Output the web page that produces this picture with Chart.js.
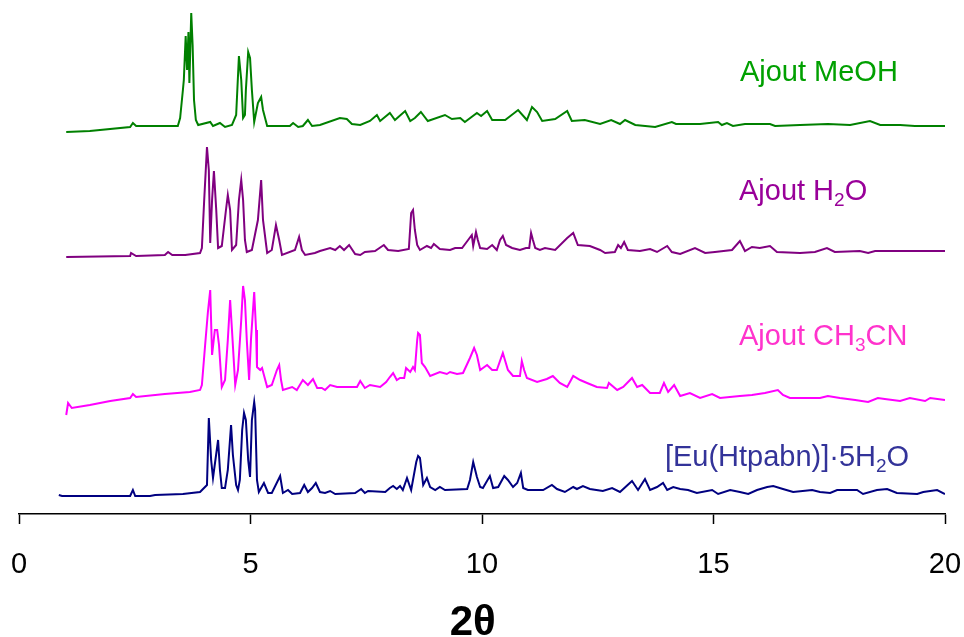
<!DOCTYPE html>
<html>
<head>
<meta charset="utf-8">
<script src="https://cdn.jsdelivr.net/npm/chart.js@4"></script>
<style>
  html, body { margin: 0; padding: 0; background: #fff; }
  #wrap { width: 964px; height: 637px; }
</style>
</head>
<body>
<div id="wrap"><canvas id="myChart" width="964" height="637"></canvas></div>
<script>
// 2theta positions and intensities (arbitrary units, each above its own baseline)
const meohX = [1.02,1.53,2.40,2.46,2.53,3.43,3.48,3.54,3.56,3.60,3.63,3.66,3.68,3.72,3.75,3.78,3.82,3.87,4.13,4.19,4.34,4.45,4.60,4.69,4.75,4.80,4.84,4.88,4.90,4.95,4.99,5.03,5.08,5.16,5.23,5.27,5.36,5.85,5.92,6.03,6.13,6.24,6.33,6.50,6.93,7.08,7.19,7.37,7.58,7.73,7.80,8.01,8.12,8.34,8.45,8.55,8.68,8.83,9.20,9.35,9.53,9.63,9.89,9.98,10.11,10.22,10.50,10.78,10.97,11.08,11.19,11.30,11.58,11.84,11.94,12.22,12.55,12.79,12.98,13.09,13.31,13.74,14.10,14.19,14.71,15.10,15.18,15.29,15.42,15.68,16.22,16.33,16.87,17.47,17.95,18.38,18.60,19.03,19.35,20.00];
const meohY = [0,1,5,9,6,6,14,42,52,96,62,100,49,119,87,32,12,7,10,6,9,5,7,17,76,52,14,17,42,80,74,42,10,29,35,22,6,6,9,5,6,12,6,7,14,13,8,7,11,17,11,19,12,21,11,14,20,11,17,13,14,10,19,16,21,12,12,22,12,25,20,11,13,21,11,12,8,12,8,12,7,5,10,8,8,10,7,9,6,8,8,6,7,8,7,11,7,7,6,6];

const h2oX = [1.02,2.40,2.42,2.53,3.15,3.22,3.31,3.59,3.91,3.95,4.00,4.06,4.10,4.13,4.17,4.21,4.26,4.30,4.38,4.47,4.51,4.56,4.60,4.69,4.75,4.80,4.84,4.88,4.92,5.03,5.16,5.23,5.27,5.36,5.46,5.55,5.62,5.68,5.96,6.05,6.11,6.18,6.39,6.50,6.72,6.83,6.93,7.02,7.13,7.26,7.37,7.47,7.69,7.88,7.97,8.19,8.42,8.47,8.51,8.55,8.60,8.66,8.81,8.90,8.96,9.09,9.31,9.42,9.57,9.70,9.78,9.81,9.87,9.91,9.96,10.11,10.22,10.32,10.39,10.45,10.52,10.65,10.82,10.95,11.02,11.06,11.10,11.15,11.25,11.36,11.58,11.84,11.97,12.07,12.33,12.55,12.66,12.87,12.94,13.00,13.07,13.15,13.41,13.63,13.78,14.00,14.10,14.28,14.60,14.82,15.03,15.40,15.57,15.68,15.83,16.00,16.22,16.37,16.87,17.19,17.45,17.62,18.16,18.34,18.49,20.00];
const h2oY = [0,1,4,1,2,5,2,2,4,9,57,110,87,14,57,86,47,9,11,47,62,47,7,12,57,77,57,17,5,7,37,77,37,4,7,32,17,2,7,20,7,2,4,6,9,7,11,7,12,3,2,5,6,12,7,6,8,44,47,27,12,7,11,9,13,8,7,9,9,17,22,11,25,17,9,8,12,7,17,21,12,9,7,9,9,24,17,9,7,9,7,19,24,12,11,7,4,5,12,9,15,7,6,8,5,11,5,3,9,4,5,7,16,6,10,9,11,5,4,5,9,5,6,4,6,6];

const ch3cnX = [1.02,1.06,1.14,1.53,1.97,2.40,2.46,2.53,3.15,3.69,3.91,3.95,4.02,4.08,4.13,4.17,4.23,4.28,4.32,4.38,4.45,4.51,4.56,4.60,4.67,4.73,4.80,4.84,4.88,4.92,4.97,5.01,5.08,5.12,5.14,5.21,5.25,5.29,5.36,5.46,5.57,5.62,5.66,5.70,5.90,6.00,6.13,6.24,6.35,6.44,6.54,6.61,6.72,6.87,7.30,7.37,7.47,7.58,7.80,7.93,8.01,8.08,8.16,8.23,8.32,8.36,8.45,8.51,8.55,8.60,8.62,8.66,8.70,8.77,8.88,9.09,9.24,9.31,9.46,9.59,9.74,9.83,9.89,9.96,10.11,10.22,10.32,10.45,10.56,10.67,10.82,10.86,10.91,10.97,11.19,11.40,11.53,11.68,11.84,11.97,12.12,12.27,12.48,12.70,12.74,12.92,13.05,13.24,13.35,13.46,13.63,13.84,13.93,14.02,14.15,14.28,14.49,14.71,14.97,15.14,15.57,15.83,16.11,16.39,16.50,16.65,17.30,17.47,17.73,18.06,18.34,18.55,18.70,19.03,19.24,19.57,19.68,20.00];
const ch3cnY = [0,12,7,10,14,17,21,18,21,23,25,30,70,103,125,60,85,85,70,28,35,75,115,85,30,45,95,129,115,75,35,75,123,85,48,45,47,40,28,30,45,50,35,25,28,25,35,30,36,27,27,25,30,28,28,34,27,30,28,33,38,42,35,37,37,47,43,48,45,75,82,80,52,48,39,43,41,43,41,42,57,67,60,45,50,45,45,62,45,39,39,54,45,37,33,36,39,32,28,39,35,32,28,27,32,25,28,37,28,30,22,22,32,23,30,19,22,17,21,17,19,20,22,25,20,17,17,19,17,15,13,17,16,14,17,14,17,15];

const euX = [0.86,0.93,2.40,2.46,2.51,2.83,2.94,3.54,3.91,4.06,4.10,4.15,4.19,4.30,4.34,4.38,4.45,4.51,4.58,4.62,4.69,4.73,4.77,4.82,4.86,4.90,4.95,4.99,5.03,5.08,5.10,5.14,5.18,5.29,5.38,5.46,5.64,5.70,5.81,5.90,6.07,6.16,6.24,6.33,6.41,6.50,6.61,6.72,6.83,7.26,7.39,7.47,7.54,7.91,8.01,8.08,8.16,8.23,8.29,8.38,8.47,8.58,8.62,8.66,8.73,8.81,8.88,8.99,9.09,9.20,9.68,9.74,9.81,9.89,9.96,10.02,10.17,10.24,10.35,10.48,10.56,10.67,10.76,10.84,10.89,10.99,11.32,11.51,11.62,11.79,11.97,12.05,12.18,12.33,12.61,12.81,12.98,13.24,13.37,13.52,13.63,13.78,13.91,14.00,14.13,14.28,14.45,14.64,14.97,15.10,15.36,15.57,15.75,15.94,16.16,16.29,16.50,16.72,17.13,17.30,17.52,17.67,18.10,18.23,18.53,18.75,18.96,19.40,19.53,19.83,20.00];
const euY = [1,0,0,6,0,0,1,2,4,11,78,36,18,56,26,8,8,26,71,41,11,6,16,66,83,76,36,19,76,94,86,16,4,13,3,3,20,3,6,2,3,11,4,8,13,4,3,5,2,3,7,3,5,4,8,10,7,10,6,18,6,34,40,38,11,18,9,6,9,6,7,16,34,19,9,8,20,8,9,20,16,9,13,23,8,6,6,11,7,4,9,7,10,7,5,8,4,15,6,17,6,9,13,6,9,7,6,3,6,2,6,4,2,6,9,10,7,4,6,4,3,6,6,2,6,7,3,2,4,6,2];

const seriesNames = ['Ajout MeOH', 'Ajout H2O', 'Ajout CH3CN', '[Eu(Htpabn)]·5H2O'];
const xTicks = [0, 5, 10, 15, 20];
const xTitle = '2θ';

// vertical stacking of the four patterns
const offsets = [382, 257, 99, 18];
const lineColors = ['#008000', '#800080', '#ff00ff', '#000080'];
const textColors = ['#00a000', '#990099', '#ff33cc', '#333399'];

function toPoints(xs, ys, off) {
  return xs.map((x, i) => ({ x: x, y: ys[i] + off }));
}

const allX = [meohX, h2oX, ch3cnX, euX];
const allY = [meohY, h2oY, ch3cnY, euY];

// label texts with subscripts, anchored in data coords
const labelParts = [
  [['Ajout MeOH']],
  [['Ajout H'], ['2', 1], ['O']],
  [['Ajout CH'], ['3', 1], ['CN']],
  [['[Eu(Htpabn)]·5H'], ['2', 1], ['O']]
];
const labelAt = [[15.57, 441], [15.55, 322], [15.55, 177], [13.95, 56]];

const labelPlugin = {
  id: 'labels',
  afterDraw(chart) {
    const ctx = chart.ctx;
    const xs = chart.scales.x, ys = chart.scales.y;
    ctx.save();
    ctx.textBaseline = 'middle';
    ctx.textAlign = 'left';
    labelParts.forEach((parts, i) => {
      let px = xs.getPixelForValue(labelAt[i][0]);
      const py = ys.getPixelForValue(labelAt[i][1]);
      ctx.fillStyle = textColors[i];
      parts.forEach(p => {
        if (p[1]) {
          ctx.font = '19px "Liberation Sans", Arial, sans-serif';
          ctx.fillText(p[0], px, py + 9);
        } else {
          ctx.font = '29px "Liberation Sans", Arial, sans-serif';
          ctx.fillText(p[0], px, py);
        }
        px += ctx.measureText(p[0]).width;
      });
    });
    // axis title, sits a little left of the axis centre
    ctx.fillStyle = '#000';
    ctx.textAlign = 'center';
    ctx.font = 'bold 42px "Liberation Sans", Arial, sans-serif';
    ctx.fillText(xTitle, xs.getPixelForValue(9.8), chart.chartArea.bottom + 109);
    ctx.restore();
  }
};

const ctx = document.getElementById('myChart').getContext('2d');
Chart.defaults.font.family = '"Liberation Sans", Arial, sans-serif';

const myChart = new Chart(ctx, {
  type: 'line',
  data: {
    datasets: seriesNames.map((name, i) => ({
      label: name,
      data: toPoints(allX[i], allY[i], offsets[i]),
      borderColor: lineColors[i],
      borderWidth: 2,
      pointRadius: 0,
      tension: 0,
      fill: false
    }))
  },
  options: {
    responsive: false,
    animation: false,
    layout: { padding: { left: 19, right: 19, top: 0, bottom: 0 } },
    plugins: { legend: { display: false }, tooltip: { enabled: false } },
    scales: {
      x: {
        type: 'linear',
        min: 0,
        max: 20,
        afterBuildTicks(scale) {
          scale.ticks = xTicks.map(v => ({ value: v }));
        },
        afterFit(scale) {
          scale.height = 123;
          scale.paddingLeft = 0;
          scale.paddingRight = 0;
        },
        border: { display: true, color: '#000', width: 1.5 },
        grid: { drawOnChartArea: false, drawTicks: true, tickLength: 10, color: '#000', tickWidth: 1.5 },
        ticks: { color: '#000', font: { size: 29 }, padding: 24, maxRotation: 0 }
      },
      y: {
        display: false,
        min: 0,
        max: 514
      }
    }
  },
  plugins: [labelPlugin]
});
</script>
</body>
</html>
